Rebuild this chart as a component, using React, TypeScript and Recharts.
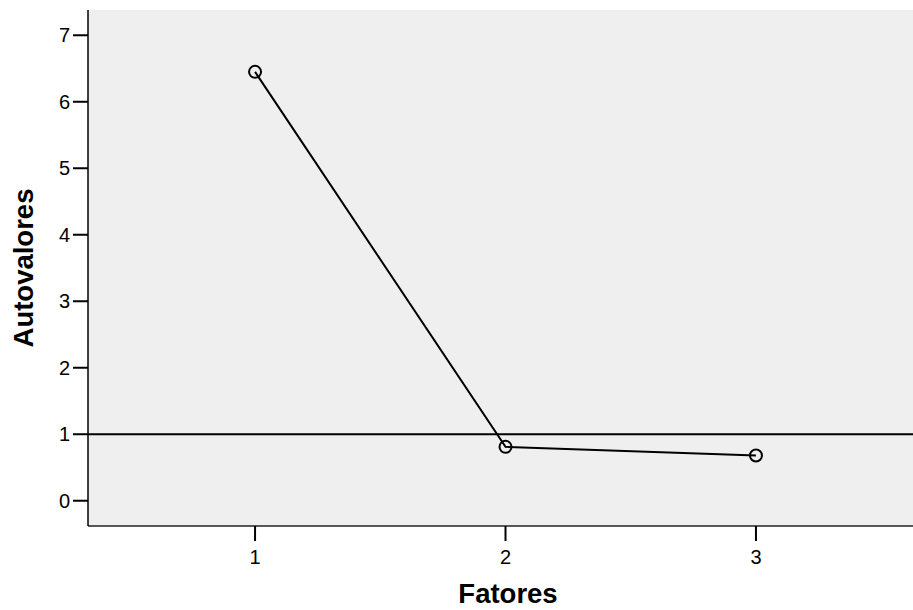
import React from 'react';
import { LineChart, Line, XAxis, YAxis, CartesianGrid, ReferenceLine } from 'recharts';

const factors = [1, 2, 3];
const eigenvalues = [6.45, 0.81, 0.68];
const yTicks = [0, 1, 2, 3, 4, 5, 6, 7];
const xTicks = [1, 2, 3];
const cutoff = 1;

const data = factors.map((f, i) => ({ f, v: eigenvalues[i] }));

const FONT = 'Arial, "Liberation Sans", sans-serif';

export default function App() {
  return (
    <div style={{ position: 'absolute', left: 0, top: 0, width: 913, height: 610, overflow: 'hidden' }}>
      <LineChart width={913} height={610} data={data} margin={{ top: 10, right: 0, left: 0, bottom: 0 }}>
        <CartesianGrid fill="#EFEFEF" horizontal={false} vertical={false} />
        <XAxis
          xAxisId="top"
          orientation="top"
          dataKey="f"
          type="number"
          domain={[0.333, 3.627]}
          height={0}
          tick={false}
          tickLine={false}
          axisLine={{ stroke: '#555', strokeWidth: 2 }}
        />
        <XAxis
          dataKey="f"
          type="number"
          domain={[0.333, 3.627]}
          ticks={xTicks}
          height={84}
          tickSize={15}
          tickMargin={9}
          axisLine={{ stroke: '#222', strokeWidth: 1.5 }}
          tickLine={{ stroke: '#000', strokeWidth: 2 }}
          tick={{ fill: '#000', fontSize: 20, fontFamily: FONT }}
          label={{
            content: () => (
              <text x={508} y={603} textAnchor="middle" fontFamily={FONT} fontWeight="bold" fontSize={27.5} fill="#000">
                Fatores
              </text>
            ),
          }}
        />
        <YAxis
          type="number"
          domain={[-0.38, 7.38]}
          ticks={yTicks}
          width={88}
          tickSize={15}
          tickMargin={3}
          axisLine={{ stroke: '#000', strokeWidth: 1.5 }}
          tickLine={{ stroke: '#000', strokeWidth: 2 }}
          tick={{ fill: '#000', fontSize: 20, fontFamily: FONT }}
          label={{
            content: () => (
              <text
                x={33}
                y={268}
                transform="rotate(-90 33 268)"
                textAnchor="middle"
                fontFamily={FONT}
                fontWeight="bold"
                fontSize={27.5}
                fill="#000"
              >
                Autovalores
              </text>
            ),
          }}
        />
        <ReferenceLine y={cutoff} stroke="#000" strokeWidth={2} />
        <Line
          dataKey="v"
          stroke="#000"
          strokeWidth={2}
          isAnimationActive={false}
          dot={{ r: 6, stroke: '#000', strokeWidth: 2, fill: 'none' }}
          activeDot={false}
        />
      </LineChart>
    </div>
  );
}
